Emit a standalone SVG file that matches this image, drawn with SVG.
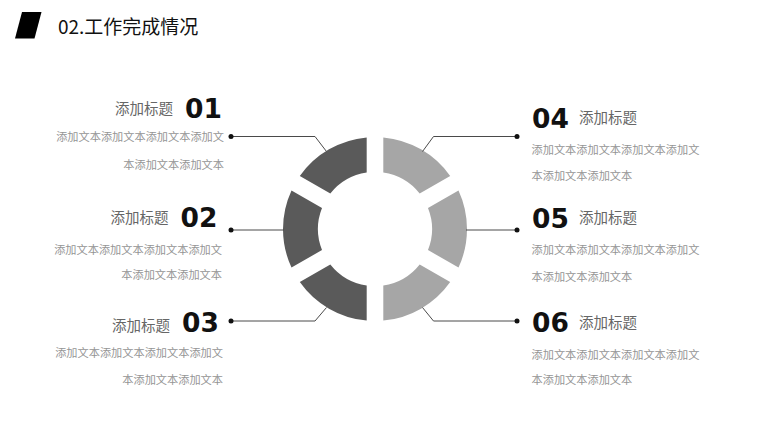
<svg xmlns="http://www.w3.org/2000/svg" width="768" height="432" viewBox="0 0 768 432">
<style>
.cjk{font-family:"Noto Sans CJK SC","Noto Sans",sans-serif}
.ttl{font-size:14.5px;fill:#666}
.body{font-size:11.2px;fill:#959595}
.num{font-family:"DejaVu Sans","Noto Sans",sans-serif;font-weight:bold;font-size:26.5px;fill:#111}
.dark{fill:#5a5a5a}
.light{fill:#a6a6a6}
.conn{fill:none;stroke:#4a4a4a;stroke-width:1}
.dot{fill:#111}
</style>
<rect width="768" height="432" fill="#fff"/>
<g id="header">
<polygon points="22,12 41.5,12 34.5,38.5 15,38.5" fill="#000"/>
<text x="58" y="34" class="cjk" font-size="19" fill="#111">02.工作完成情况</text>
</g>
<g id="ring">
<path id="seg01" class="dark" d="M 299.81,175.99 A 92 92 0 0 1 366.69,137.38 L 366.70,172.61 A 57 57 0 0 0 330.32,193.61 Z"/>
<path id="seg02" class="dark" d="M 291.50,267.62 A 92 92 0 0 1 291.50,190.38 L 322.01,207.99 A 57 57 0 0 0 322.01,250.01 Z"/>
<path id="seg03" class="dark" d="M 366.69,320.62 A 92 92 0 0 1 299.81,282.01 L 330.32,264.39 A 57 57 0 0 0 366.70,285.39 Z"/>
<path id="seg04" class="light" d="M 383.31,137.38 A 92 92 0 0 1 450.19,175.99 L 419.68,193.61 A 57 57 0 0 0 383.30,172.61 Z"/>
<path id="seg05" class="light" d="M 458.50,190.38 A 92 92 0 0 1 458.50,267.62 L 427.99,250.01 A 57 57 0 0 0 427.99,207.99 Z"/>
<path id="seg06" class="light" d="M 450.19,282.01 A 92 92 0 0 1 383.31,320.62 L 383.30,285.39 A 57 57 0 0 0 419.68,264.39 Z"/>
</g>
<g id="connectors">
<polyline class="conn" points="231,136.5 315,136.5 326.5,151.5"/>
<polyline class="conn" points="231,230 284,230"/>
<polyline class="conn" points="231,321 315,321 326.5,307.5"/>
<polyline class="conn" points="517,136.5 433.5,136.5 422.5,151.5"/>
<polyline class="conn" points="517,230 466,230"/>
<polyline class="conn" points="517,321 433.5,321 422.5,307.5"/>
<circle class="dot" cx="231" cy="136.5" r="2.5"/>
<circle class="dot" cx="231" cy="230" r="2.5"/>
<circle class="dot" cx="231" cy="321" r="2.5"/>
<circle class="dot" cx="517" cy="136.5" r="2.5"/>
<circle class="dot" cx="517" cy="230" r="2.5"/>
<circle class="dot" cx="517" cy="321" r="2.5"/>
</g>
<g id="item01">
<text x="173" y="114.2" text-anchor="end" class="cjk ttl">添加标题</text>
<text x="185" y="117.7" class="num">01</text>
<text x="224" y="141" text-anchor="end" class="cjk body">添加文本添加文本添加文本添加文</text>
<text x="224" y="169" text-anchor="end" class="cjk body">本添加文本添加文本</text>
</g>
<g id="item02">
<text x="168.5" y="223.2" text-anchor="end" class="cjk ttl">添加标题</text>
<text x="180.5" y="226.7" class="num">02</text>
<text x="222" y="254" text-anchor="end" class="cjk body">添加文本添加文本添加文本添加文</text>
<text x="222" y="279" text-anchor="end" class="cjk body">本添加文本添加文本</text>
</g>
<g id="item03">
<text x="170" y="330.5" text-anchor="end" class="cjk ttl">添加标题</text>
<text x="182" y="331.7" class="num">03</text>
<text x="223" y="357.4" text-anchor="end" class="cjk body">添加文本添加文本添加文本添加文</text>
<text x="223" y="384" text-anchor="end" class="cjk body">本添加文本添加文本</text>
</g>
<g id="item04">
<text x="532" y="128.3" class="num">04</text>
<text x="579" y="123.2" class="cjk ttl">添加标题</text>
<text x="531.5" y="154" class="cjk body">添加文本添加文本添加文本添加文</text>
<text x="531.5" y="180" class="cjk body">本添加文本添加文本</text>
</g>
<g id="item05">
<text x="532" y="228.3" class="num">05</text>
<text x="579" y="223.2" class="cjk ttl">添加标题</text>
<text x="531.5" y="254" class="cjk body">添加文本添加文本添加文本添加文</text>
<text x="531.5" y="281" class="cjk body">本添加文本添加文本</text>
</g>
<g id="item06">
<text x="532" y="331.7" class="num">06</text>
<text x="579" y="328.2" class="cjk ttl">添加标题</text>
<text x="531.5" y="359" class="cjk body">添加文本添加文本添加文本添加文</text>
<text x="531.5" y="384" class="cjk body">本添加文本添加文本</text>
</g>
</svg>
